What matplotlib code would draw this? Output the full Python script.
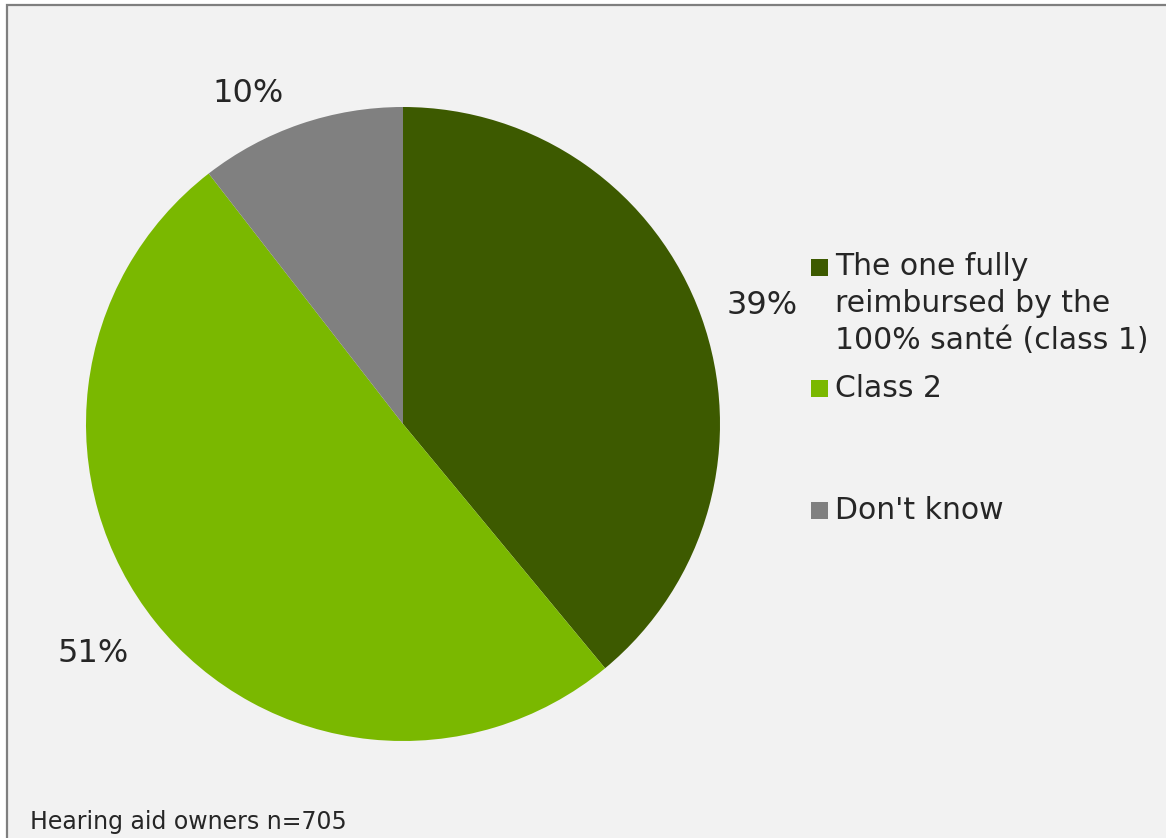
import matplotlib
matplotlib.use('Agg')
import matplotlib.pyplot as plt
from matplotlib.patches import Rectangle

plt.rcParams['font.family'] = 'DejaVu Sans'

# Data:
categories = ["The one fully\nreimbursed by the\n100% santé (class 1)", "Class 2", "Don't know"]
shares = [39.0, 50.5, 10.5]
pct_labels = ['39%', '51%', '10%']
note = 'Hearing aid owners n=705'

# Styles:
colours = ['#3d5a00', '#7ab800', '#808080']
textColour = '#262626'
W, H = 1166, 838
label_xy = [(762, 306), (93, 653), (248, 93)]   # centres of the percentage labels (px)
legend_y = [267.5, 388.5, 510.5]                # centre of the first text line of each entry (px)

fig = plt.figure(figsize=(W / 100, H / 100), dpi=100)
fig.patch.set_facecolor('white')
ax = fig.add_axes([0, 0, 1, 1])

# panel background with the grey border (top and left are visible)
ax.add_patch(Rectangle((6.5, -20), W + 40, H - 5.5 + 20, facecolor='#f2f2f2',
                       edgecolor='#7f7f7f', linewidth=1.6, zorder=0))

wedges, texts = ax.pie(shares, colors=colours, startangle=90, counterclock=False,
                       center=(403, H - 424), radius=317, labels=pct_labels,
                       labeldistance=1.2, wedgeprops={'linewidth': 0},
                       textprops={'fontsize': 23, 'color': textColour})
for t, (x, y) in zip(texts, label_xy):
    t.set_ha('center')
    t.set_va('center')
    t.set_position((x, H - y))

# legend drawn by hand so the spacing follows the original
for colour, label, y in zip(colours, categories, legend_y):
    ax.add_patch(Rectangle((811, H - y - 8.5), 17, 17, facecolor=colour, linewidth=0))
    n = label.count('\n')
    ax.text(835, H - y - n * 18, label, fontsize=21.5, color=textColour,
            ha='left', va='center', linespacing=1.33)

ax.text(30, H - 829, note, fontsize=17, color=textColour, ha='left', va='baseline')

ax.set_xlim(0, W)
ax.set_ylim(0, H)
ax.set_aspect('equal')
ax.axis('off')

plt.savefig('out.png', dpi=100)
